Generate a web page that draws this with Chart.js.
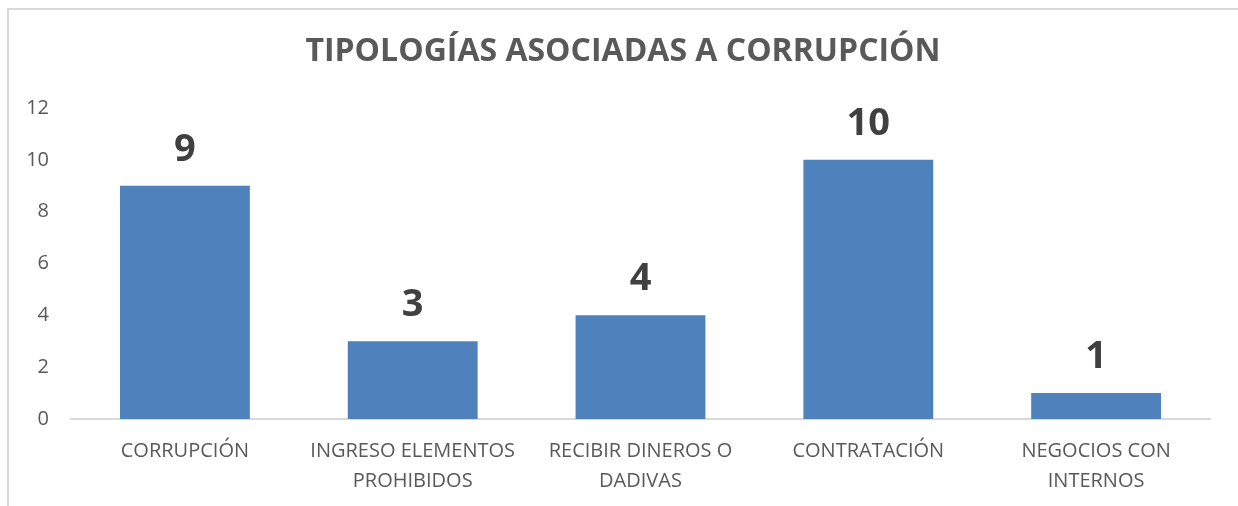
<!DOCTYPE html>
<html>
<head>
<meta charset="utf-8">
<script src="https://cdn.jsdelivr.net/npm/chart.js@4"></script>
<style>
  html, body { margin: 0; padding: 0; background: #fff; }
  #wrap { position: relative; width: 1238px; height: 506px; overflow: hidden; }
  #frame { position: absolute; left: 7px; top: 8px; width: 1260px; height: 520px;
           border: 2px solid #d9d9d9; box-sizing: border-box; pointer-events: none; }
  canvas { position: absolute; left: 0; top: 0; }
</style>
</head>
<body>
<div id="wrap">
  <canvas id="tipologias" width="1238" height="506"></canvas>
  <div id="frame"></div>
</div>
<script>
// datos del grafico
let TITLE = "TIPOLOGÍAS ASOCIADAS A CORRUPCIÓN";
let CATEGORIES = [
  "CORRUPCIÓN",
  ["INGRESO ELEMENTOS", "PROHIBIDOS"],
  ["RECIBIR DINEROS O", "DADIVAS"],
  "CONTRATACIÓN",
  ["NEGOCIOS CON", "INTERNOS"]
];
let CASES = [9, 3, 4, 10, 1];
let Y_TICKS = [0, 2, 4, 6, 8, 10, 12];

var BAR_BLUE = "#4f81bd";
var TEXT_GRAY = "#595959";
var LABEL_GRAY = "#404040";

// titulo centrado en todo el lienzo y numeros encima de las barras
var extras = {
  id: 'extras',
  afterDatasetsDraw(chart) {
    var ctx = chart.ctx;
    var meta = chart.getDatasetMeta(0);
    ctx.save();
    ctx.fillStyle = TEXT_GRAY;
    ctx.font = "bold 32px 'Open Sans'";
    ctx.textAlign = "center";
    ctx.textBaseline = "middle";
    ctx.fillText(TITLE, 623, 52);

    ctx.font = "bold 38px 'Open Sans'";
    ctx.fillStyle = LABEL_GRAY;
    ctx.textBaseline = "bottom";
    meta.data.forEach(function(bar, i) {
      ctx.fillText(chart.data.datasets[0].data[i], bar.x, bar.y - 17);
    });
    ctx.restore();
  }
};

var ctx = document.getElementById("tipologias").getContext('2d');
var chart = new Chart(ctx, {
  type: 'bar',
  data: {
    labels: CATEGORIES,
    datasets: [{
      data: CASES,
      backgroundColor: BAR_BLUE,
      categoryPercentage: 0.57,
      barPercentage: 1
    }]
  },
  options: {
    responsive: false,
    animation: false,
    layout: { padding: { top: 108, right: 28, left: 0, bottom: 0 } },
    plugins: {
      legend: { display: false },
      tooltip: { enabled: false },
      title: { display: false }
    },
    scales: {
      x: {
        grid: { display: false },
        border: { display: true, color: "#d9d9d9", width: 2 },
        ticks: {
          color: TEXT_GRAY,
          font: { family: "'Open Sans'", size: 20, lineHeight: 1.5 },
          padding: 9,
          maxRotation: 0,
          autoSkip: false
        },
        afterFit(s) { s.height = 87; }
      },
      y: {
        min: 0,
        max: 12,
        afterBuildTicks(s) { s.ticks = Y_TICKS.map(v => ({ value: v })); },
        grid: { display: false, drawTicks: false },
        border: { display: false },
        ticks: {
          color: TEXT_GRAY,
          font: { family: "'Open Sans'", size: 20 },
          padding: 22
        },
        afterFit(s) { s.width = 71; }
      }
    }
  },
  plugins: [extras]
});
</script>
</body>
</html>
